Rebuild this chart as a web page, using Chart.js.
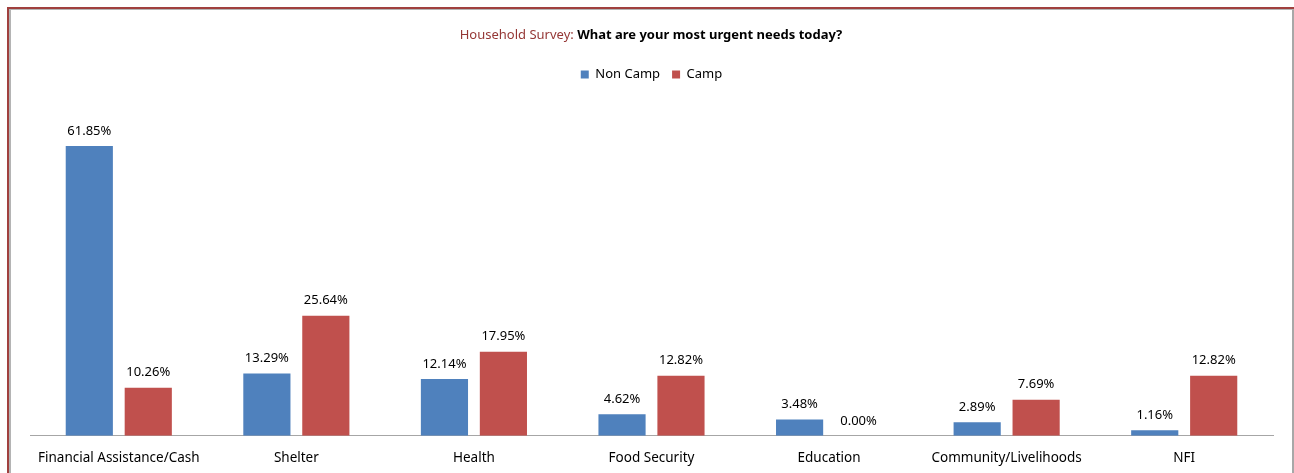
<!DOCTYPE html>
<html>
<head>
<meta charset="utf-8">
<script src="https://cdn.jsdelivr.net/npm/chart.js@4.4.1/dist/chart.umd.min.js"></script>
<style>
    body { margin: 0; background: #fff; }
    #wrap { position: relative; width: 1294px; height: 473px; }
    #outer { position: absolute; left: 7px; top: 7px; right: 0; bottom: 0;
        border-left: 2px solid #a0403e; border-top: 2px solid #a0403e; }
    #inner { position: absolute; left: 9px; top: 9px; right: 0; bottom: 0;
        border-left: 2px solid #b4b4b4; border-top: 1px solid #b4b4b4; border-right: 2px solid #a8a8a8; }
    canvas { position: absolute; left: 0; top: 0; }
</style>
</head>
<body>
<div id="wrap">
    <div id="outer"></div>
    <div id="inner"></div>
    <canvas id="needsChart" width="1294" height="473"></canvas>
</div>
<script>
var categories = ["Financial Assistance/Cash", "Shelter", "Health", "Food Security", "Education", "Community/Livelihoods", "NFI"];
var nonCamp = [61.85, 13.29, 12.14, 4.62, 3.48, 2.89, 1.16];
var camp = [10.26, 25.64, 17.95, 12.82, 0.00, 7.69, 12.82];

var FONT = "'Noto Sans', 'Liberation Sans', sans-serif";

// title in two colours
var titlePlugin = {
    id: 'twoColourTitle',
    afterDraw: function (chart) {
        var ctx = chart.ctx;
        var a = "Household Survey: ";
        var b = "What are your most urgent needs today?";
        ctx.save();
        ctx.textBaseline = 'middle';
        ctx.font = "13px " + FONT;
        var wa = ctx.measureText(a).width;
        ctx.font = "bold 13px " + FONT;
        var wb = ctx.measureText(b).width;
        var x = 651 - (wa + wb) / 2;
        ctx.font = "13px " + FONT;
        ctx.fillStyle = "#953735";
        ctx.fillText(a, x, 35);
        ctx.font = "bold 13px " + FONT;
        ctx.fillStyle = "#000";
        ctx.fillText(b, x + wa, 35);
        ctx.restore();
    }
};

// percentage labels above the bars
var valuePlugin = {
    id: 'valueLabels',
    afterDatasetsDraw: function (chart) {
        var ctx = chart.ctx;
        ctx.save();
        ctx.font = "13px " + FONT;
        ctx.fillStyle = "#000";
        ctx.textAlign = 'center';
        ctx.textBaseline = 'middle';
        chart.data.datasets.forEach(function (ds, i) {
            chart.getDatasetMeta(i).data.forEach(function (bar, j) {
                var v = ds.data[j];
                ctx.fillText(v.toFixed(2) + "%", bar.x, bar.y - 15);
            });
        });
        ctx.restore();
    }
};

new Chart(document.getElementById("needsChart"), {
    type: 'bar',
    data: {
        labels: categories,
        datasets: [
            { label: "Non Camp", data: nonCamp, backgroundColor: "#4f81bd" },
            { label: "Camp", data: camp, backgroundColor: "#c0504d" }
        ]
    },
    options: {
        responsive: false,
        animation: false,
        categoryPercentage: 0.664,
        barPercentage: 0.8,
        layout: { padding: { left: 30, right: 21, top: 56, bottom: 0 } },
        plugins: {
            legend: {
                display: true,
                position: 'top',
                labels: {
                    boxWidth: 8,
                    boxHeight: 8,
                    padding: 12,
                    color: "#000",
                    font: { family: FONT, size: 13 }
                }
            },
            title: { display: false },
            tooltip: { enabled: false }
        },
        scales: {
            x: {
                grid: { display: false },
                border: { display: true, color: "#a6a6a6", width: 1 },
                ticks: { color: "#000", padding: 6.5, font: { family: FONT, size: 13.5 }, maxRotation: 0 }
            },
            y: {
                display: false,
                min: 0,
                max: 73.6
            }
        }
    },
    plugins: [titlePlugin, valuePlugin]
});
</script>
</body>
</html>
